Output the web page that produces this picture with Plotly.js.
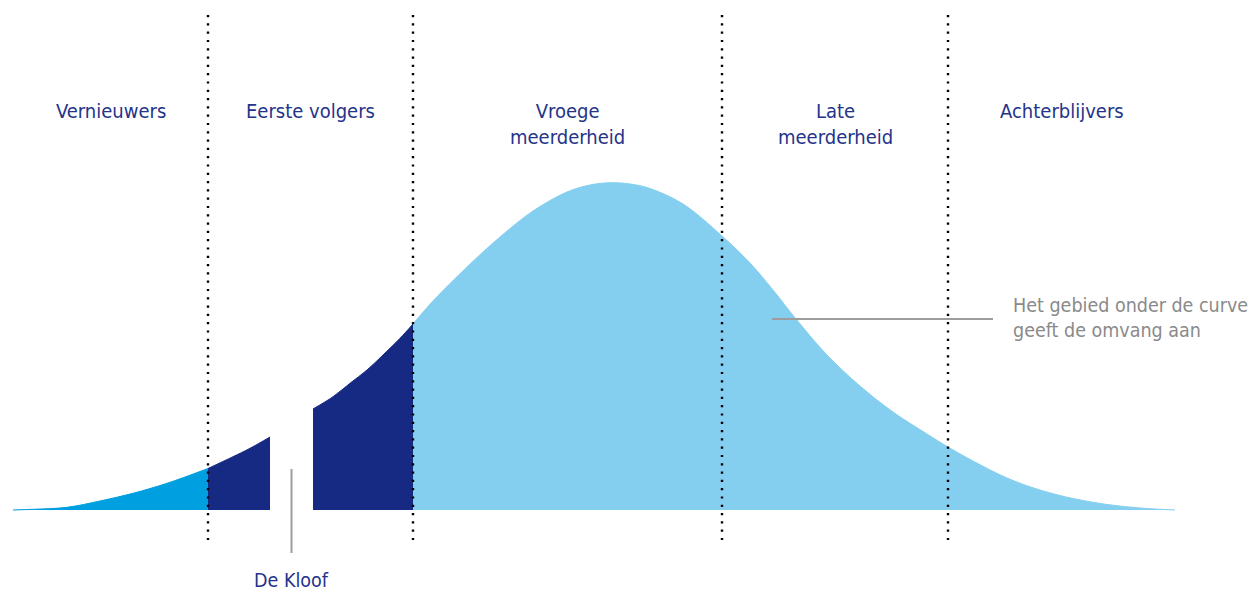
<!DOCTYPE html>
<html>
<head>
<meta charset="utf-8">
<script src="https://cdn.plot.ly/plotly-3.0.1.min.js"></script>
<style>html,body{margin:0;padding:0;background:#fff;overflow:hidden}</style>
</head>
<body>
<div id="chart" style="width:1254px;height:592px"></div>
<script>
// ---- data ----
// adoption curve: position along the time axis and share of adopters (height)
const curveX = [13, 33, 67, 100, 133, 167, 208, 233, 250, 270,
                313, 333, 350, 367, 383, 400, 413, 433, 467, 500, 533, 567, 590, 610, 630, 650, 683,
                722, 750, 773, 796, 827, 860, 893, 927, 948, 973, 1007, 1040, 1073, 1107, 1140, 1175];
const curveY = [0, 0.7, 2.7, 9, 16.7, 26.7, 41.5, 53.3, 61.7, 73,
                101, 113.3, 126.7, 140, 155, 171.7, 186, 209, 243, 273, 299, 318, 325, 327.3, 326, 321.5, 306,
                274, 247, 220, 191, 155, 124, 98, 76, 63, 49, 32, 20, 11.5, 5.5, 2, 0];
// segment boundaries (start, group dividers, end)
const boundaries = [13, 208, 413, 722, 948, 1175];
// the chasm between early adopters and early majority
const chasm = [270, 313];
// category labels
const categories = ['Vernieuwers', 'Eerste volgers', 'Vroege<br>meerderheid', 'Late<br>meerderheid', 'Achterblijvers'];
const chasmLabel = 'De Kloof';
const noteLabel = 'Het gebied onder de curve<br>geeft de omvang aan';

// ---- styling / layout constants ----
const NAVY = '#172a83', CYAN = '#009fe0', LIGHT = '#84cfef';
const LABEL_COLOR = '#24348a', NOTE_COLOR = '#8a8a8a', GREY_LINE = '#9d9d9d';
const FONT = '"DejaVu Sans Condensed", Roboto, "DejaVu Sans", sans-serif';
const DIV_TOP = 495, DIV_BOTTOM = -34;
const CHASM_TOP = 41, CHASM_BOTTOM = -43;
const NOTE_Y = 191, NOTE_X0 = 772, NOTE_X1 = 993, NOTE_TEXT_X = 1011;
const LABEL_Y = 399, LINE_STEP = 12.5, CHASM_LABEL_Y = -70;

function slice(x0, x1) {
  const xs = [], ys = [];
  curveX.forEach((x, i) => { if (x >= x0 && x <= x1) { xs.push(x); ys.push(curveY[i]); } });
  return {xs, ys};
}
function area(x0, x1, color) {
  const s = slice(x0, x1);
  return {x: s.xs, y: s.ys, type: 'scatter', mode: 'lines', fill: 'tozeroy',
          fillcolor: color, line: {color: color, width: 1, shape: 'spline', smoothing: 1},
          hoverinfo: 'skip'};
}

const traces = [
  area(boundaries[0], boundaries[1], CYAN),
  area(boundaries[1], chasm[0], NAVY),
  area(chasm[1], boundaries[2], NAVY),
  area(boundaries[2], boundaries[5], LIGHT)
];

// dotted dividers
boundaries.slice(1, 5).forEach(b => {
  traces.push({x: [b, b], y: [DIV_TOP, DIV_BOTTOM], type: 'scatter', mode: 'lines',
               line: {color: '#000', width: 2.4, dash: '2.2px,6.1px'}, hoverinfo: 'skip'});
});
// chasm marker
const chasmMid = (chasm[0] + chasm[1]) / 2;
traces.push({x: [chasmMid, chasmMid], y: [CHASM_TOP, CHASM_BOTTOM], type: 'scatter', mode: 'lines',
             line: {color: GREY_LINE, width: 2}, hoverinfo: 'skip'});
// note leader line
traces.push({x: [NOTE_X0, NOTE_X1], y: [NOTE_Y, NOTE_Y], type: 'scatter', mode: 'lines',
             line: {color: GREY_LINE, width: 2}, hoverinfo: 'skip'});

const annotations = categories.map((t, i) => {
  const lines = t.split('<br>').length;
  return {x: (boundaries[i] + boundaries[i + 1]) / 2, y: LABEL_Y - (lines - 1) * LINE_STEP,
          xref: 'x', yref: 'y', text: t, showarrow: false, xanchor: 'center', yanchor: 'middle',
          align: 'center', font: {family: FONT, size: 20, color: LABEL_COLOR}};
});
annotations.push({x: chasmMid, y: CHASM_LABEL_Y, xref: 'x', yref: 'y', text: chasmLabel, showarrow: false,
                  xanchor: 'center', yanchor: 'middle', font: {family: FONT, size: 19.5, color: LABEL_COLOR}});
annotations.push({x: NOTE_TEXT_X, y: NOTE_Y + 1.5, xref: 'x', yref: 'y', text: noteLabel, showarrow: false,
                  xanchor: 'left', yanchor: 'middle', align: 'left',
                  font: {family: FONT, size: 19.5, color: NOTE_COLOR}});

const layout = {
  width: 1254, height: 592,
  margin: {l: 0, r: 0, t: 0, b: 0, pad: 0},
  paper_bgcolor: '#fff', plot_bgcolor: '#fff',
  showlegend: false, hovermode: false,
  xaxis: {range: [0, 1254], visible: false, fixedrange: true},
  yaxis: {range: [-82, 510], visible: false, fixedrange: true},
  annotations: annotations
};

Plotly.newPlot('chart', traces, layout, {staticPlot: true, displayModeBar: false});
</script>
</body>
</html>
